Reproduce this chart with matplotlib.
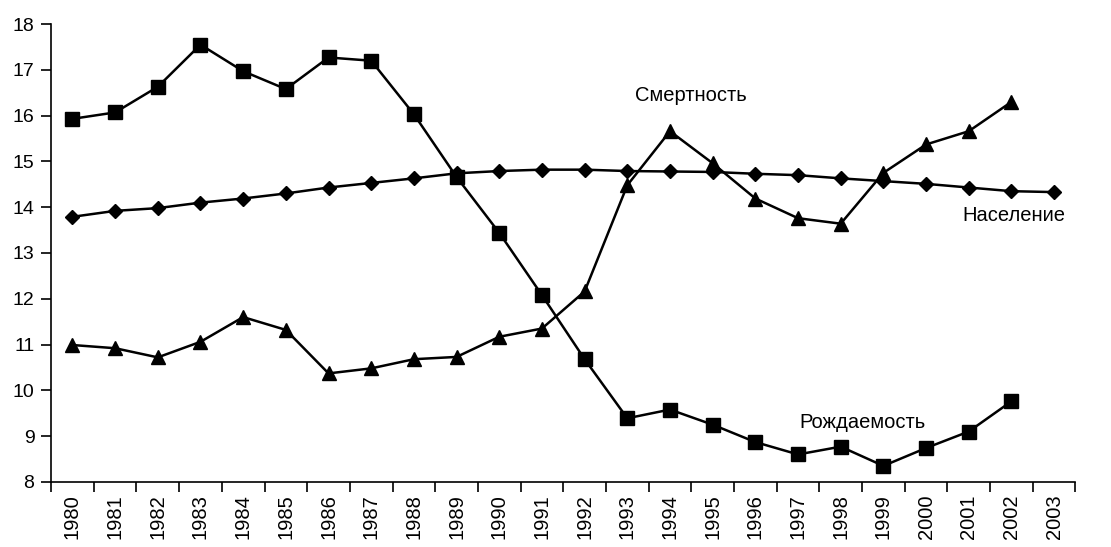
import numpy as np
import matplotlib
matplotlib.use('Agg')
import matplotlib.pyplot as plt

plt.rcParams['font.family'] = ['Liberation Sans', 'DejaVu Sans']

years = list(range(1980, 2004))

# рождаемость (squares), 1980-2002
births = [15.93, 16.07, 16.63, 17.55, 16.97, 16.58, 17.27, 17.2, 16.03, 14.66, 13.44,
          12.08, 10.68, 9.39, 9.58, 9.25, 8.87, 8.6, 8.77, 8.35, 8.74, 9.1, 9.76]
# смертность (triangles), 1980-2002
deaths = [10.99, 10.92, 10.72, 11.06, 11.6, 11.32, 10.37, 10.48, 10.68, 10.73, 11.17,
          11.35, 12.16, 14.48, 15.66, 14.96, 14.19, 13.76, 13.64, 14.75, 15.37, 15.66, 16.3]
# население (diamonds), 1980-2003
population = [13.79, 13.92, 13.98, 14.1, 14.19, 14.3, 14.43, 14.53, 14.63, 14.74, 14.79, 14.82,
              14.82, 14.79, 14.78, 14.77, 14.73, 14.7, 14.63, 14.57, 14.51, 14.43, 14.35, 14.33]

x = np.arange(len(years))

fig = plt.figure(figsize=(11.11, 5.47), dpi=100)
ax = fig.add_axes([0.046, 0.119, 0.922, 0.837])

ax.plot(x[:len(population)], population, color='black', lw=1.8, marker='D', ms=7)
ax.plot(x[:len(births)], births, color='black', lw=1.8, marker='s', ms=10.5)
ax.plot(x[:len(deaths)], deaths, color='black', lw=1.8, marker='^', ms=10.5)

ax.text(14.5, 16.43, 'Смертность', fontsize=14.5, ha='center', va='center')
ax.text(22.05, 13.81, 'Население', fontsize=14.5, ha='center', va='center')
ax.text(18.5, 9.3, 'Рождаемость', fontsize=14.5, ha='center', va='center')

ax.set_xlim(-0.5, len(years) - 0.5)
ax.set_ylim(8, 18)
ax.set_yticks(range(8, 19))
ax.set_xticks(x)
ax.set_xticklabels([str(y) for y in years], rotation=90, fontsize=14.5)
ax.set_xticks(np.arange(-0.5, len(years), 1.0), minor=True)
ax.tick_params(axis='x', which='major', length=0, pad=9)
ax.tick_params(axis='x', which='minor', length=7, width=1.2)
ax.tick_params(axis='y', length=7, width=1.2, labelsize=14, pad=5)

for side in ['top', 'right']:
    ax.spines[side].set_visible(False)
for side in ['left', 'bottom']:
    ax.spines[side].set_linewidth(1.2)

fig.savefig('out.png', dpi=100)
